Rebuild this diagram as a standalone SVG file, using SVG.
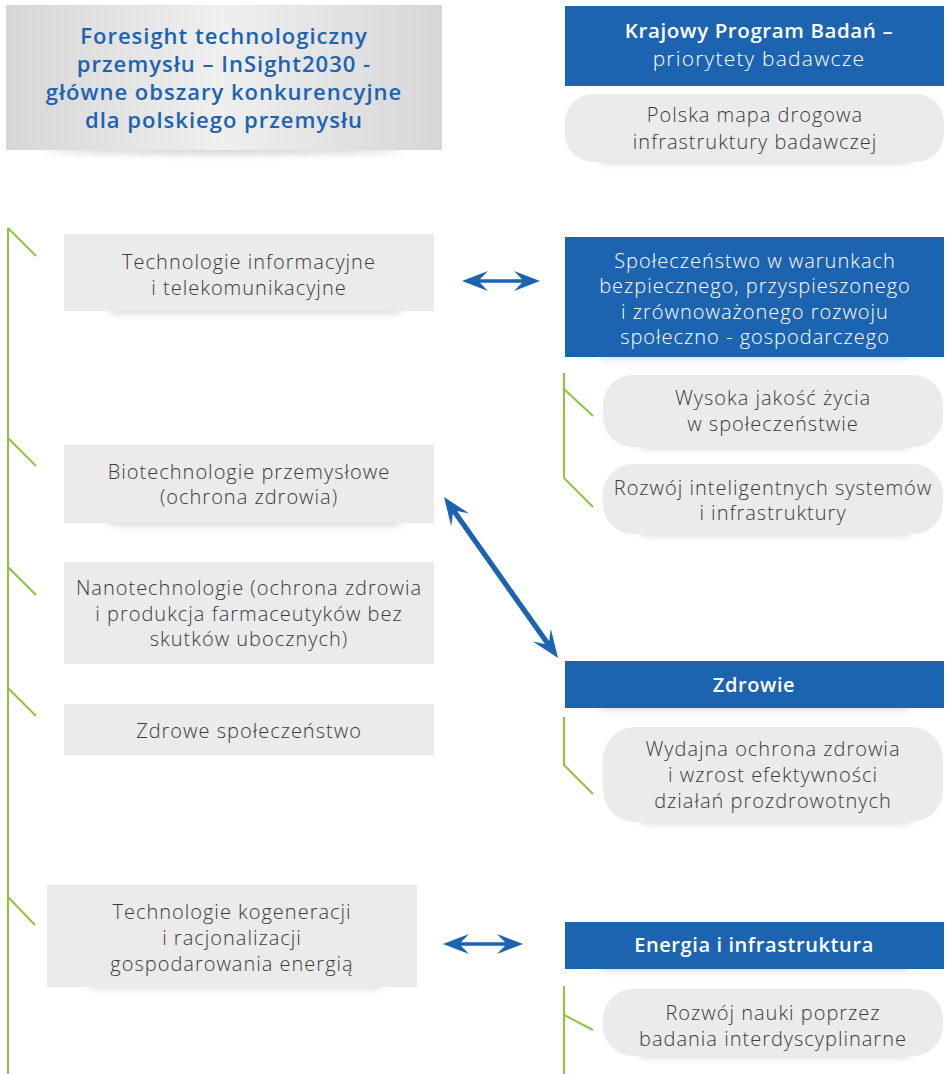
<svg xmlns="http://www.w3.org/2000/svg" width="948" height="1074" viewBox="0 0 948 1074">
<defs>
<linearGradient id="hg" x1="0" y1="0" x2="1" y2="0">
<stop offset="0" stop-color="#d6d6d6"/><stop offset="0.5" stop-color="#efefef"/><stop offset="1" stop-color="#d6d6d6"/>
</linearGradient>
<filter id="sh" x="-20%" y="-200%" width="140%" height="500%"><feGaussianBlur stdDeviation="4"/></filter>
<style>
.g{stroke:#8cc63f;stroke-width:2;fill:none}
.bx{fill:#ebebeb}
.bl{fill:#1c63b0}
.sd{fill:#000;opacity:.22;filter:url(#sh)}
.t{font-family:"Open Sans",Lato,sans-serif;font-size:20px;letter-spacing:1px;fill:#3a3a3a;text-anchor:middle;font-weight:300}
.w{font-family:"Open Sans",Lato,sans-serif;font-size:20px;letter-spacing:1px;fill:#ffffff;text-anchor:middle;font-weight:300}
.wb{font-family:"Open Sans",Lato,sans-serif;font-size:20px;letter-spacing:0.6px;fill:#ffffff;text-anchor:middle;font-weight:600}
.hb{font-family:"Open Sans",Lato,sans-serif;font-size:22px;letter-spacing:1px;fill:#1c63b0;text-anchor:middle;font-weight:600}
.ar{fill:#1c63b0}
</style>
</defs>
<rect width="948" height="1074" fill="#ffffff"/>

<g id="header-left">
<ellipse class="sd" cx="224" cy="149" rx="180" ry="4"/>
<rect x="6" y="5" width="436" height="145" fill="url(#hg)"/>
<text class="hb" x="224" y="44">Foresight technologiczny</text>
<text class="hb" x="224" y="72">przemysłu – InSight2030 -</text>
<text class="hb" x="224" y="100">główne obszary konkurencyjne</text>
<text class="hb" x="224" y="128">dla polskiego przemysłu</text>
</g>

<g id="header-right">
<rect class="bl" x="565" y="6" width="379" height="80"/>
<text class="wb" x="759" y="38" style="font-size:20.5px">Krajowy Program Badań –</text>
<text class="w" x="759" y="66" style="font-size:21px;letter-spacing:1.2px">priorytety badawcze</text>
</g>

<g id="roadmap">
<rect class="sd" x="600" y="154" width="310" height="8"/>
<rect class="bx" x="565" y="94" width="379" height="68" rx="28"/>
<text class="t" x="755" y="122">Polska mapa drogowa</text>
<text class="t" x="755" y="149">infrastruktury badawczej</text>
</g>

<g id="connectors">
<path class="g" d="M8,228 V1074 M8,228 L36,256 M8,438 L36,466 M8,567 L36,595 M8,688 L36,716 M8,897 L35,925"/>
<path class="g" d="M564,373 V478 M564,389 L593,416 M564,478 L593,507"/>
<path class="g" d="M564,717 V765 L593,794"/>
<path class="g" d="M564,986 V1074 M564,1015 L593,1030"/>
<path class="ar" d="M462,281 L488,271 L480,279.3 L522,279.3 L514,271 L540,281 L514,291 L522,282.7 L480,282.7 L488,291 Z"/>
<path class="ar" d="M443,944 L469,934 L461,942.3 L505,942.3 L497,934 L523,944 L497,954 L505,945.7 L461,945.7 L469,954 Z"/>
<path class="ar" transform="translate(444,497) rotate(54.7)" d="M0,0 L28,-11 L19,-2.6 L178.3,-2.6 L169.3,-11 L197.3,0 L169.3,11 L178.3,2.6 L19,2.6 L28,11 Z"/>
</g>

<g id="ict">
<rect class="sd" x="110" y="304" width="290" height="8"/>
<rect class="bx" x="64" y="234" width="370" height="77"/>
<text class="t" x="249" y="269">Technologie informacyjne</text>
<text class="t" x="249" y="295">i telekomunikacyjne</text>
</g>

<g id="spoleczenstwo">
<rect class="sd" x="600" y="349" width="310" height="8"/>
<rect class="bl" x="565" y="237" width="379" height="120"/>
<text class="w" x="755" y="268">Społeczeństwo w warunkach</text>
<text class="w" x="755" y="293">bezpiecznego, przyspieszonego</text>
<text class="w" x="755" y="319">i zrównoważonego rozwoju</text>
<text class="w" x="755" y="344">społeczno - gospodarczego</text>
</g>

<g id="jakosc">
<rect class="sd" x="640" y="439" width="270" height="8"/>
<rect class="bx" x="603" y="375" width="340" height="72" rx="30"/>
<text class="t" x="773" y="405">Wysoka jakość życia</text>
<text class="t" x="773" y="431">w społeczeństwie</text>
</g>

<g id="systemy">
<rect class="sd" x="640" y="526" width="270" height="8"/>
<rect class="bx" x="603" y="464" width="340" height="70" rx="30"/>
<text class="t" x="773" y="495">Rozwój inteligentnych systemów</text>
<text class="t" x="773" y="520">i infrastruktury</text>
</g>

<g id="biotech">
<rect class="sd" x="110" y="516" width="290" height="8"/>
<rect class="bx" x="64" y="445" width="370" height="78"/>
<text class="t" x="249" y="479">Biotechnologie przemysłowe</text>
<text class="t" x="249" y="504">(ochrona zdrowia)</text>
</g>

<g id="nano">
<rect class="bx" x="64" y="562" width="370" height="102"/>
<text class="t" x="249" y="595">Nanotechnologie (ochrona zdrowia</text>
<text class="t" x="249" y="621">i produkcja farmaceutyków bez</text>
<text class="t" x="249" y="646">skutków ubocznych)</text>
</g>

<g id="zdrowe">
<rect class="bx" x="64" y="704" width="370" height="51"/>
<text class="t" x="249" y="738">Zdrowe społeczeństwo</text>
</g>

<g id="zdrowie">
<rect class="sd" x="600" y="700" width="310" height="8"/>
<rect class="bl" x="565" y="661" width="379" height="47"/>
<text class="wb" x="754" y="692">Zdrowie</text>
</g>

<g id="ochrona">
<rect class="sd" x="640" y="814" width="270" height="8"/>
<rect class="bx" x="603" y="727" width="340" height="95" rx="32"/>
<text class="t" x="773" y="756">Wydajna ochrona zdrowia</text>
<text class="t" x="773" y="782">i wzrost efektywności</text>
<text class="t" x="773" y="808">działań prozdrowotnych</text>
</g>

<g id="kogeneracja">
<rect class="sd" x="90" y="979" width="290" height="8"/>
<rect class="bx" x="47" y="885" width="370" height="102"/>
<text class="t" x="232" y="919">Technologie kogeneracji</text>
<text class="t" x="232" y="945">i racjonalizacji</text>
<text class="t" x="232" y="971">gospodarowania energią</text>
</g>

<g id="energia">
<rect class="sd" x="600" y="961" width="310" height="8"/>
<rect class="bl" x="565" y="922" width="379" height="47"/>
<text class="wb" x="754" y="952">Energia i infrastruktura</text>
</g>

<g id="nauka">
<rect class="sd" x="640" y="1048" width="270" height="8"/>
<rect class="bx" x="603" y="989" width="340" height="67" rx="30"/>
<text class="t" x="773" y="1020">Rozwój nauki poprzez</text>
<text class="t" x="773" y="1046">badania interdyscyplinarne</text>
</g>
</svg>
